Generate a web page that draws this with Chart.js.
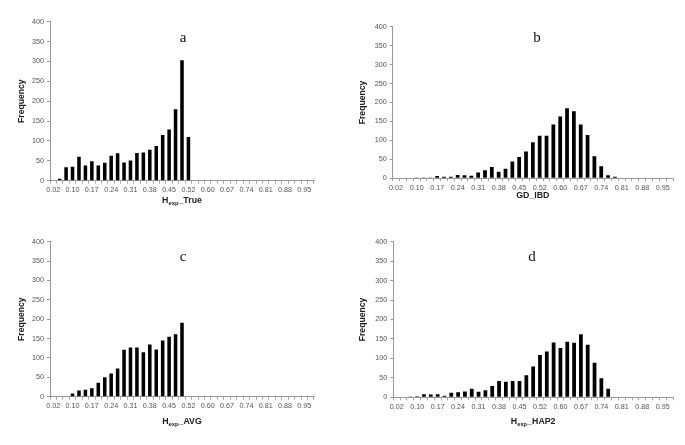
<!DOCTYPE html>
<html lang="en">
<head>
  <meta charset="UTF-8">
  <title>Heterozygosity histograms</title>
  <script src="https://cdn.jsdelivr.net/npm/chart.js"></script>
  <style>
    body { margin: 0; background: #fff; }
    canvas { position: absolute; }
  </style>
</head>
<body>
  <canvas id="chart-a" width="342" height="220" style="left:0;top:0"></canvas>
  <canvas id="chart-b" width="343" height="220" style="left:342px;top:0"></canvas>
  <canvas id="chart-c" width="342" height="225" style="left:0;top:220px"></canvas>
  <canvas id="chart-d" width="343" height="225" style="left:342px;top:220px"></canvas>

<script>
// bins of width 1/42, labelled by their upper bound
const binLabels = ['0.02','0.05','0.07','0.10','0.12','0.14','0.17','0.19','0.21','0.24',
  '0.26','0.29','0.31','0.33','0.36','0.38','0.40','0.43','0.45','0.48',
  '0.50','0.52','0.55','0.57','0.60','0.62','0.64','0.67','0.69','0.71',
  '0.74','0.76','0.79','0.81','0.83','0.86','0.88','0.90','0.93','0.95','0.98'];

const freqTrue = [0, 5, 34, 35, 60, 38, 49, 38, 45, 63, 69, 46, 51, 70, 71, 78, 87, 115, 129, 180, 303, 110,
  0, 0, 0, 0, 0, 0, 0, 0, 0, 0, 0, 0, 0, 0, 0, 0, 0, 0, 0];

const freqIBD = [0, 0, 0, 1, 2, 2, 6, 4, 4, 9, 8, 7, 15, 21, 30, 17, 25, 44, 56, 71, 95, 112, 112, 142,
  163, 185, 177, 142, 114, 58, 32, 8, 4, 0, 0, 0, 0, 0, 0, 0, 0];

const freqAvg = [0, 0, 1, 8, 16, 18, 22, 36, 50, 60, 73, 121, 127, 127, 115, 135, 122, 145, 155, 161, 191,
  0, 0, 0, 0, 0, 0, 0, 0, 0, 0, 0, 0, 0, 0, 0, 0, 0, 0, 0, 0];

const freqHap2 = [0, 0, 1, 3, 8, 7, 8, 4, 12, 13, 15, 22, 14, 18, 29, 42, 40, 42, 42, 57, 79, 109, 118,
  141, 127, 143, 140, 162, 135, 89, 49, 22, 0, 0, 0, 0, 0, 0, 0, 0, 0];

const yMax = 400;
const yStep = 50;

const tickFont = { family: 'Liberation Sans', size: 7.2 };

// draws axis titles (with subscript) and the panel letter
const annotate = {
  id: 'annotate',
  afterDraw(chart, args, o) {
    const ctx = chart.ctx;
    const area = chart.chartArea;
    ctx.save();
    ctx.fillStyle = '#222';
    // y title
    ctx.font = 'bold 8.6px "Liberation Sans"';
    ctx.textAlign = 'center';
    ctx.textBaseline = 'middle';
    ctx.translate(o.yTitleX, (area.top + area.bottom) / 2);
    ctx.rotate(-Math.PI / 2);
    ctx.fillText('Frequency', 0, 0);
    ctx.setTransform(1, 0, 0, 1, 0, 0);
    // x title
    const big = 'bold 8.8px "Liberation Sans"';
    const small = 'bold 5.8px "Liberation Sans"';
    ctx.textAlign = 'left';
    ctx.textBaseline = 'alphabetic';
    ctx.font = big;
    const w1 = ctx.measureText(o.main).width;
    const w3 = ctx.measureText(o.rest).width;
    ctx.font = small;
    const w2 = o.sub ? ctx.measureText(o.sub).width : 0;
    let x = (area.left + area.right) / 2 - (w1 + w2 + w3) / 2;
    ctx.font = big;
    ctx.fillText(o.main, x, o.xTitleY);
    x += w1;
    if (o.sub) {
      ctx.font = small;
      ctx.fillText(o.sub, x, o.xTitleY + 2);
      x += w2;
    }
    ctx.font = big;
    ctx.fillText(o.rest, x, o.xTitleY);
    // panel letter
    ctx.font = '15px "Liberation Serif"';
    ctx.textAlign = 'center';
    ctx.textBaseline = 'alphabetic';
    ctx.fillStyle = '#111';
    ctx.fillText(o.letter, o.letterX, o.letterY);
    ctx.restore();
  }
};

function makePanel(id, values, g, text) {
  const canvas = document.getElementById(id);
  const w = canvas.width, h = canvas.height;
  return new Chart(canvas.getContext('2d'), {
    type: 'bar',
    data: {
      labels: binLabels,
      datasets: [{
        data: values,
        backgroundColor: '#000',
        borderWidth: 0,
        barPercentage: 0.55,
        categoryPercentage: 1
      }]
    },
    options: {
      responsive: false,
      animation: false,
      devicePixelRatio: 1,
      layout: { padding: { left: 0, right: w - g.right, top: g.top, bottom: h - g.bottom - 16 } },
      plugins: {
        legend: { display: false },
        tooltip: { enabled: false },
        annotate: text
      },
      scales: {
        x: {
          grid: { drawOnChartArea: false, tickLength: 3, color: '#aaa' },
          border: { color: '#999' },
          ticks: {
            autoSkip: false, maxRotation: 0, minRotation: 0, padding: 2,
            font: tickFont, color: '#555',
            callback: (v, i) => i % 3 === 0 ? binLabels[i] : ''
          },
          afterFit: s => { s.height = 16; }
        },
        y: {
          min: 0, max: yMax,
          grid: { drawOnChartArea: false, tickLength: 3, color: '#999' },
          border: { color: '#999' },
          ticks: { stepSize: yStep, padding: 3, font: tickFont, color: '#555' },
          afterFit: s => { s.width = g.left; }
        }
      }
    },
    plugins: [annotate]
  });
}

makePanel('chart-a', freqTrue, { left: 50, right: 314, top: 21.7, bottom: 180.7 },
  { main: 'H', sub: 'exp', rest: '_True', xTitleY: 203, yTitleX: 22, letter: 'a', letterX: 183, letterY: 42 });
makePanel('chart-b', freqIBD, { left: 50.7, right: 331, top: 26.7, bottom: 178.3 },
  { main: 'GD_IBD', sub: '', rest: '', xTitleY: 198, yTitleX: 21, letter: 'b', letterX: 195, letterY: 42 });
makePanel('chart-c', freqAvg, { left: 50, right: 314, top: 21.7, bottom: 176.7 },
  { main: 'H', sub: 'exp', rest: '_AVG', xTitleY: 204, yTitleX: 22, letter: 'c', letterX: 183, letterY: 41 });
makePanel('chart-d', freqHap2, { left: 51.3, right: 331, top: 21.7, bottom: 177.3 },
  { main: 'H', sub: 'exp', rest: '_HAP2', xTitleY: 204, yTitleX: 21, letter: 'd', letterX: 190, letterY: 41 });
</script>
</body>
</html>
